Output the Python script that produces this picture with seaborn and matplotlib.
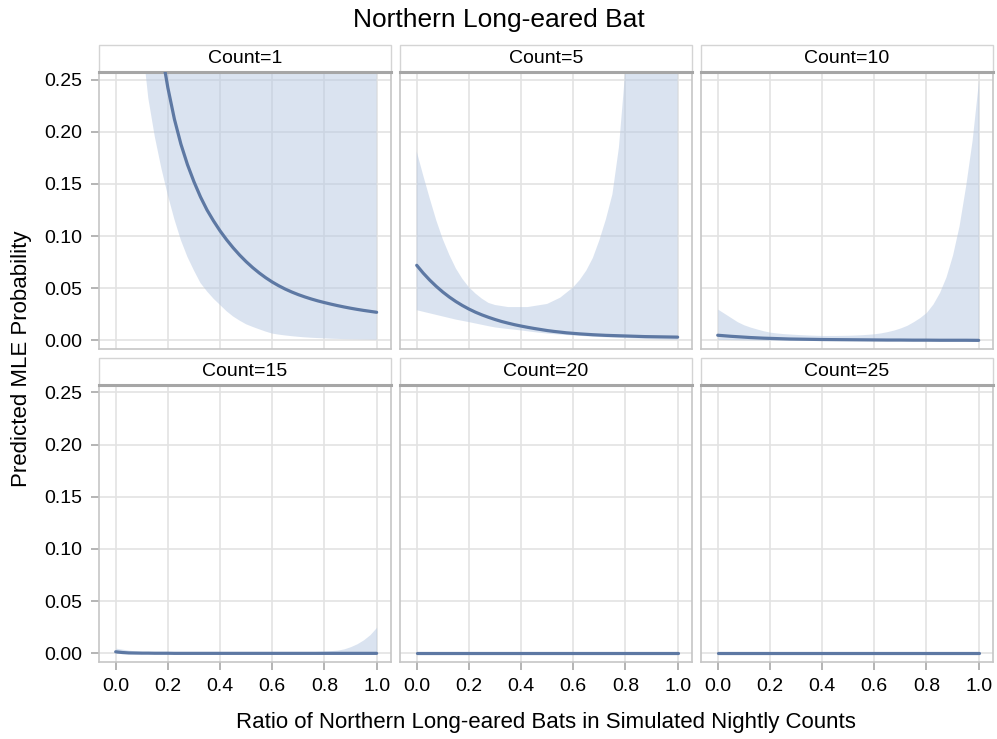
import pandas as pd
import matplotlib.pyplot as plt
import seaborn as sns
from matplotlib.patches import Rectangle

sns.set_style('whitegrid')
plt.rcParams['font.family'] = ['Liberation Sans', 'DejaVu Sans']
plt.rcParams['text.color'] = 'black'
plt.rcParams['axes.labelcolor'] = 'black'

# ratio of northern long-eared bats (x axis, shared by all panels)
ratio = [0.0, 0.025, 0.05, 0.075, 0.1, 0.125, 0.15, 0.175, 0.2, 0.225,
         0.25, 0.275, 0.3, 0.325, 0.35, 0.375, 0.4, 0.425, 0.45, 0.475,
         0.5, 0.525, 0.55, 0.575, 0.6, 0.625, 0.65, 0.675, 0.7, 0.725,
         0.75, 0.775, 0.8, 0.825, 0.85, 0.875, 0.9, 0.925, 0.95, 0.975, 1.0]

counts = [1, 5, 10, 15, 20, 25]

# a flat series sitting on zero (counts 20 and 25)
flat_zero = [0.0, 0.0, 0.0, 0.0, 0.0, 0.0, 0.0, 0.0, 0.0, 0.0,
             0.0, 0.0, 0.0, 0.0, 0.0, 0.0, 0.0, 0.0, 0.0, 0.0,
             0.0, 0.0, 0.0, 0.0, 0.0, 0.0, 0.0, 0.0, 0.0, 0.0,
             0.0, 0.0, 0.0, 0.0, 0.0, 0.0, 0.0, 0.0, 0.0, 0.0, 0.0]

# predicted MLE probability per count
prob_c1 = [0.72, 0.63, 0.55, 0.48, 0.42, 0.37, 0.32, 0.278, 0.242, 0.212,
           0.188, 0.1685, 0.152, 0.1375, 0.125, 0.1145, 0.105, 0.0965, 0.0888, 0.0818,
           0.0755, 0.0698, 0.0647, 0.0601, 0.056, 0.0524, 0.0492, 0.0464, 0.0439, 0.0417,
           0.0397, 0.0379, 0.0363, 0.0348, 0.0334, 0.0321, 0.0309, 0.0298, 0.0288, 0.0279, 0.027]
prob_c5 = [0.072, 0.0645, 0.0578, 0.0518, 0.0464, 0.0416, 0.0373, 0.0335, 0.0301, 0.0271,
           0.0245, 0.0222, 0.0201, 0.0182, 0.0166, 0.0151, 0.0138, 0.0126, 0.0115, 0.0105,
           0.0095, 0.0087, 0.008, 0.0073, 0.0068, 0.0063, 0.0059, 0.0055, 0.0052, 0.0049,
           0.0047, 0.0045, 0.0043, 0.0041, 0.0039, 0.0037, 0.0036, 0.0035, 0.0034, 0.0033, 0.0032]
prob_c10 = [0.005, 0.0045, 0.004, 0.0036, 0.0032, 0.0028, 0.0025, 0.0022, 0.002, 0.0018,
            0.0016, 0.0014, 0.0013, 0.0012, 0.0011, 0.001, 0.0009, 0.00085, 0.0008, 0.00075,
            0.0007, 0.00065, 0.0006, 0.00055, 0.0005, 0.00045, 0.0004, 0.0004, 0.0004, 0.00035,
            0.0003, 0.0003, 0.0003, 0.00025, 0.0002, 0.0002, 0.0002, 0.0002, 0.0002, 0.00015, 0.0001]
prob_c15 = [0.0015, 0.0008, 0.0004, 0.0003, 0.0002, 0.0002, 0.0001, 0.0001, 0.0001, 0.0,
            0.0, 0.0, 0.0, 0.0, 0.0, 0.0, 0.0, 0.0, 0.0, 0.0,
            0.0, 0.0, 0.0, 0.0, 0.0, 0.0, 0.0, 0.0, 0.0, 0.0,
            0.0, 0.0, 0.0, 0.0, 0.0, 0.0, 0.0, 0.0, 0.0, 0.0, 0.0]
prob_c20 = flat_zero
prob_c25 = flat_zero

# lower confidence limits
lower_c1 = [0.55, 0.48, 0.42, 0.35, 0.29, 0.232, 0.195, 0.165, 0.139, 0.116,
            0.096, 0.080, 0.067, 0.055, 0.047, 0.040, 0.034, 0.028, 0.023, 0.019,
            0.0155, 0.013, 0.0107, 0.0085, 0.0066, 0.0056, 0.0048, 0.0041, 0.0035, 0.003,
            0.0026, 0.0023, 0.002, 0.0017, 0.0015, 0.0013, 0.0012, 0.0011, 0.001, 0.0009, 0.0008]
lower_c5 = [0.029, 0.0275, 0.026, 0.0245, 0.023, 0.0215, 0.020, 0.0188, 0.0176, 0.0163,
            0.015, 0.0137, 0.0125, 0.0117, 0.011, 0.0103, 0.0096, 0.0088, 0.008, 0.0073,
            0.0066, 0.0061, 0.0056, 0.0052, 0.0048, 0.0044, 0.004, 0.0036, 0.0033, 0.003,
            0.0027, 0.0024, 0.0022, 0.0019, 0.0017, 0.0015, 0.0013, 0.0011, 0.001, 0.0008, 0.0007]
lower_c10 = [0.001, 0.0009, 0.0008, 0.0007, 0.0006, 0.00055, 0.0005, 0.00045, 0.0004, 0.00035,
             0.0003, 0.00025, 0.0002, 0.0002, 0.0002, 0.00015, 0.0001, 0.0001, 0.0001, 0.0001,
             0.0001, 0.0001, 0.0001, 0.0, 0.0, 0.0, 0.0, 0.0, 0.0, 0.0,
             0.0, 0.0, 0.0, 0.0, 0.0, 0.0, 0.0, 0.0, 0.0, 0.0, 0.0]
lower_c15 = flat_zero
lower_c20 = flat_zero
lower_c25 = flat_zero

# upper confidence limits
upper_c1 = [1.0, 1.0, 1.0, 1.0, 1.0, 1.0, 1.0, 1.0, 1.0, 1.0,
            1.0, 1.0, 1.0, 1.0, 1.0, 1.0, 1.0, 1.0, 1.0, 1.0,
            1.0, 1.0, 1.0, 1.0, 1.0, 1.0, 1.0, 1.0, 1.0, 1.0,
            1.0, 1.0, 1.0, 1.0, 1.0, 1.0, 1.0, 1.0, 1.0, 1.0, 1.0]
upper_c5 = [0.181, 0.158, 0.136, 0.115, 0.097, 0.082, 0.069, 0.059, 0.051, 0.045,
            0.040, 0.036, 0.034, 0.033, 0.032, 0.032, 0.032, 0.032, 0.033, 0.034,
            0.035, 0.038, 0.041, 0.046, 0.051, 0.058, 0.067, 0.079, 0.096, 0.116,
            0.140, 0.185, 0.26, 0.34, 0.45, 0.57, 0.70, 0.80, 0.90, 0.95, 1.0]
upper_c10 = [0.030, 0.026, 0.022, 0.018, 0.015, 0.0128, 0.011, 0.0093, 0.008, 0.0072,
             0.0066, 0.0062, 0.0058, 0.0055, 0.0052, 0.005, 0.0048, 0.0048, 0.0048, 0.0049,
             0.005, 0.0052, 0.0055, 0.0059, 0.0064, 0.0073, 0.0085, 0.010, 0.012, 0.0145,
             0.018, 0.022, 0.027, 0.035, 0.046, 0.061, 0.082, 0.11, 0.148, 0.192, 0.25]
upper_c15 = [0.005, 0.004, 0.003, 0.0024, 0.0018, 0.0015, 0.0012, 0.001, 0.0009, 0.0008,
             0.0008, 0.0008, 0.0007, 0.0007, 0.0007, 0.0007, 0.0007, 0.0007, 0.0007, 0.0007,
             0.0007, 0.0007, 0.0008, 0.0008, 0.0009, 0.0009, 0.001, 0.0011, 0.0012, 0.0014,
             0.0016, 0.0019, 0.0022, 0.0026, 0.0031, 0.0043, 0.0064, 0.0092, 0.013, 0.018, 0.025]
upper_c20 = [0.0003, 0.0002, 0.0002, 0.0001, 0.0001, 0.0001, 0.0, 0.0, 0.0, 0.0,
             0.0, 0.0, 0.0, 0.0, 0.0, 0.0, 0.0, 0.0, 0.0, 0.0,
             0.0, 0.0, 0.0, 0.0, 0.0, 0.0, 0.0, 0.0, 0.0, 0.0,
             0.0, 0.0, 0.0, 0.0, 0.0, 0.0, 0.0, 0.0, 0.0, 0.0, 0.0]
upper_c25 = [0.0001, 0.0001, 0.0, 0.0, 0.0, 0.0, 0.0, 0.0, 0.0, 0.0,
             0.0, 0.0, 0.0, 0.0, 0.0, 0.0, 0.0, 0.0, 0.0, 0.0,
             0.0, 0.0, 0.0, 0.0, 0.0, 0.0, 0.0, 0.0, 0.0, 0.0,
             0.0, 0.0, 0.0, 0.0, 0.0, 0.0, 0.0, 0.0, 0.0, 0.0, 0.0]

probs = [prob_c1, prob_c5, prob_c10, prob_c15, prob_c20, prob_c25]
lowers = [lower_c1, lower_c5, lower_c10, lower_c15, lower_c20, lower_c25]
uppers = [upper_c1, upper_c5, upper_c10, upper_c15, upper_c20, upper_c25]

frames = []
for c, p, lo, hi in zip(counts, probs, lowers, uppers):
    frames.append(pd.DataFrame({'Ratio': ratio, 'Count': c, 'Prob': p,
                                'Lower': lo, 'Upper': hi}))
df = pd.concat(frames, ignore_index=True)

line_color = '#5d78a3'
band_color = '#b6c8e2'
grid_color = '#e3e3e3'
frame_color = '#c6c6c6'


def draw_band(data, **kws):
    ax = plt.gca()
    ax.fill_between(data['Ratio'], data['Lower'], data['Upper'],
                    color=band_color, alpha=0.5, linewidth=0, zorder=2)


g = sns.FacetGrid(df, col='Count', col_wrap=3, height=3, aspect=1.05,
                  sharex=True, sharey=True, despine=False)
g.map_dataframe(draw_band)
g.map_dataframe(sns.lineplot, x='Ratio', y='Prob', color=line_color,
                linewidth=2.3, zorder=3)

fig = g.figure
fig.set_size_inches(9.97, 7.39)
fig.subplots_adjust(left=0.0993, right=0.996, top=0.903, bottom=0.1046,
                    wspace=0.031, hspace=0.129)

g.set(xlim=(-0.064, 1.055), ylim=(-0.008, 0.2575))
g.set_titles('')
g.set_axis_labels('', '')

axes = g.axes.flatten()
for i, (ax, c) in enumerate(zip(axes, counts)):
    ax.set_xticks([0.0, 0.2, 0.4, 0.6, 0.8, 1.0])
    ax.set_yticks([0.0, 0.05, 0.10, 0.15, 0.20, 0.25])
    ax.set_xticklabels(['0.0', '0.2', '0.4', '0.6', '0.8', '1.0'])
    ax.set_yticklabels(['0.00', '0.05', '0.10', '0.15', '0.20', '0.25'])
    ax.grid(True, color=grid_color, linewidth=1.2, zorder=1)
    ax.set_axisbelow(True)
    for s in ['left', 'right', 'bottom']:
        ax.spines[s].set_color(frame_color)
        ax.spines[s].set_linewidth(1.2)
    ax.spines['top'].set_color('#a6a6a6')
    ax.spines['top'].set_linewidth(2.2)
    ax.tick_params(axis='both', labelsize=14, colors='#a0a0a0',
                   labelcolor='black', length=0, width=1.1, pad=6)
    if i % 3 == 0:
        ax.tick_params(axis='y', left=True, length=6)
    if i >= 3:
        ax.tick_params(axis='x', bottom=True, length=6)
    # header strip
    ax.add_patch(Rectangle((0, 1.0), 1, 0.0964, transform=ax.transAxes,
                           clip_on=False, facecolor='white',
                           edgecolor='#d4d4d4', linewidth=1.0, zorder=0))
    ax.text(0.5, 1.048, f'Count={c}', transform=ax.transAxes,
            ha='center', va='center', fontsize=14)

fig.suptitle('Northern Long-eared Bat', fontsize=19, y=0.973, va='center')
fig.text(0.548, 0.023, 'Ratio of Northern Long-eared Bats in Simulated Nightly Counts',
         ha='center', va='center', fontsize=16)
fig.text(0.022, 0.515, 'Predicted MLE Probability', rotation=90,
         ha='center', va='center', fontsize=16)

fig.savefig('out.png', dpi=100)
